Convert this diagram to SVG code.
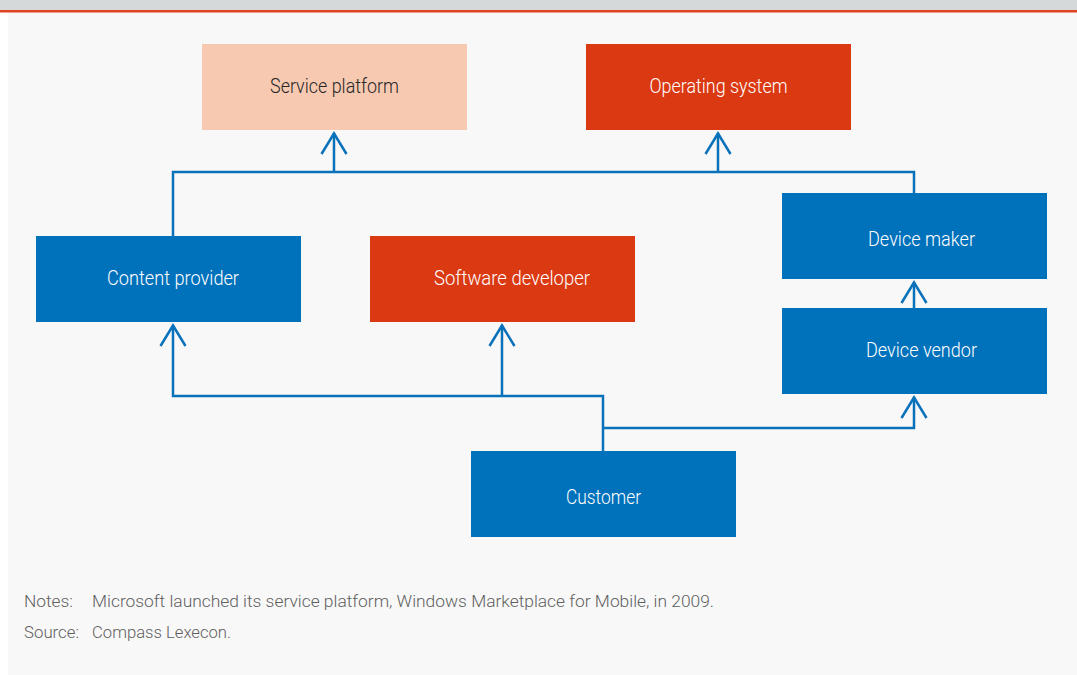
<svg xmlns="http://www.w3.org/2000/svg" width="1077" height="675" viewBox="0 0 1077 675">
  <style>
    .box-blue { fill: #0071bb; }
    .box-red { fill: #db3912; }
    .box-pale { fill: #f7c9b1; }
    .lbl { font-family: Roboto, "Liberation Sans", sans-serif; font-size: 20.5px; font-weight: 300; fill: #ffffff; text-anchor: middle; }
    .lbl-dark { fill: #262626; }
    .note { font-family: Roboto, "Liberation Sans", sans-serif; font-size: 16.5px; font-weight: 300; fill: #5f5f5f; }
    .wire { fill: none; stroke: #0a71bb; stroke-width: 2.5; stroke-linejoin: miter; }
    .head { fill: none; stroke: #0a71bb; stroke-width: 2.5; }
  </style>

  <!-- page background -->
  <rect x="0" y="0" width="1077" height="675" fill="#ffffff"/>
  <rect x="8" y="12" width="1069" height="663" fill="#f8f8f8"/>
  <rect x="0" y="0" width="1077" height="10" fill="#d6d9da"/>
  <rect x="0" y="10" width="1077" height="2.5" fill="#e0431e"/>

  <!-- connectors -->
  <g id="connectors">
    <g class="wire">
      <path d="M 173 236 V 172 H 914 V 193"/>
      <path d="M 334 172 V 133"/>
      <path d="M 718 172 V 133"/>
      <path d="M 603 451 V 396 H 173 V 325"/>
      <path d="M 502 396 V 325"/>
      <path d="M 603 428 H 914 V 397"/>
      <path d="M 914 308 V 282"/>
    </g>
    <g class="head">
      <path d="M 321.5 154 L 334 133.5 L 346.5 154"/>
      <path d="M 705.5 154 L 718 133.5 L 730.5 154"/>
      <path d="M 160.5 346 L 173 325.5 L 185.5 346"/>
      <path d="M 489.5 346 L 502 325.5 L 514.5 346"/>
      <path d="M 901.5 418 L 914 397.5 L 926.5 418"/>
      <path d="M 901.5 303 L 914 282.5 L 926.5 303"/>
    </g>
  </g>

  <!-- nodes -->
  <g id="service-platform">
    <rect class="box-pale" x="202" y="44" width="265" height="86"/>
    <text class="lbl lbl-dark" x="334.5" y="92.5" textLength="129" lengthAdjust="spacingAndGlyphs">Service platform</text>
  </g>
  <g id="operating-system">
    <rect class="box-red" x="586" y="44" width="265" height="86"/>
    <text class="lbl" x="718.5" y="92.5" textLength="138" lengthAdjust="spacingAndGlyphs">Operating system</text>
  </g>
  <g id="content-provider">
    <rect class="box-blue" x="36" y="236" width="265" height="86"/>
    <text class="lbl" x="173" y="284.5" textLength="132" lengthAdjust="spacingAndGlyphs">Content provider</text>
  </g>
  <g id="software-developer">
    <rect class="box-red" x="370" y="236" width="265" height="86"/>
    <text class="lbl" x="512" y="284.5" textLength="156" lengthAdjust="spacingAndGlyphs">Software developer</text>
  </g>
  <g id="device-maker">
    <rect class="box-blue" x="782" y="193" width="265" height="86"/>
    <text class="lbl" x="921.5" y="245.5" textLength="107" lengthAdjust="spacingAndGlyphs">Device maker</text>
  </g>
  <g id="device-vendor">
    <rect class="box-blue" x="782" y="308" width="265" height="86"/>
    <text class="lbl" x="921.5" y="356.5" textLength="111" lengthAdjust="spacingAndGlyphs">Device vendor</text>
  </g>
  <g id="customer">
    <rect class="box-blue" x="471" y="451" width="265" height="86"/>
    <text class="lbl" x="603.5" y="503.5" textLength="75" lengthAdjust="spacingAndGlyphs">Customer</text>
  </g>

  <!-- footnotes -->
  <g id="notes">
    <text class="note" x="24" y="607" textLength="49" lengthAdjust="spacingAndGlyphs">Notes:</text>
    <text class="note" x="92" y="607" textLength="622" lengthAdjust="spacingAndGlyphs">Microsoft launched its service platform, Windows Marketplace for Mobile, in 2009.</text>
    <text class="note" x="24" y="638" textLength="55" lengthAdjust="spacingAndGlyphs">Source:</text>
    <text class="note" x="92" y="638" textLength="139" lengthAdjust="spacingAndGlyphs">Compass Lexecon.</text>
  </g>
</svg>
